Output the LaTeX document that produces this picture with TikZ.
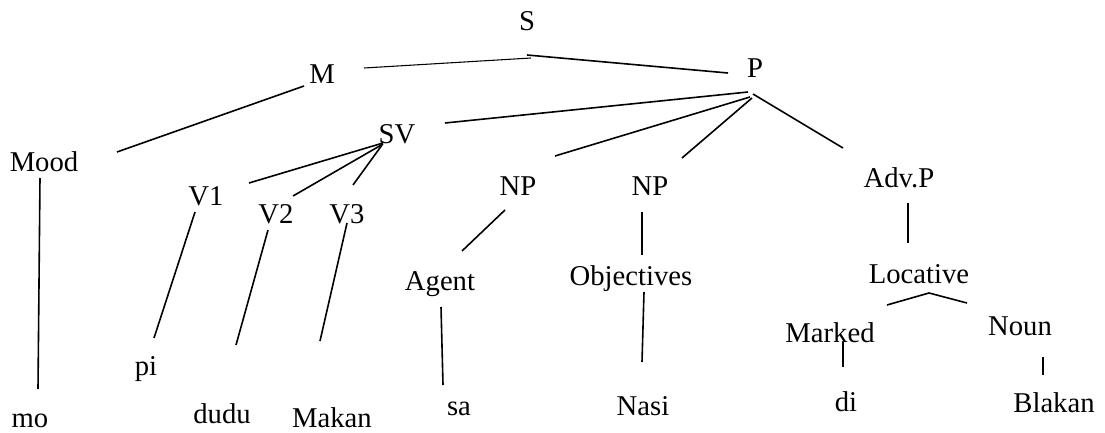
\documentclass[tikz,border=0pt]{standalone}
\usepackage{fontspec}
\setmainfont{Liberation Serif}
\begin{document}
\begin{tikzpicture}[x=0.75pt,y=-0.75pt,
  lbl/.style={anchor=base,inner sep=0pt,font=\fontsize{21.5}{25}\selectfont},
  edge/.style={line width=1.2pt},
  thin edge/.style={line width=0.8pt}]
\useasboundingbox (0,0) rectangle (1105,432);
% labels
\node[lbl] (S) at (527,30) {S};
\node[lbl] (M) at (322,83) {M};
\node[lbl] (P) at (755,77) {P};
\node[lbl] (Mood) at (44,171) {Mood};
\node[lbl] (SV) at (397,143) {SV};
\node[lbl] (V1) at (206,205) {V1};
\node[lbl] (V2) at (276,223) {V2};
\node[lbl] (V3) at (347,223) {V3};
\node[lbl] (NP1) at (518,195) {NP};
\node[lbl] (NP2) at (650,195) {NP};
\node[lbl] (AdvP) at (899,187) {Adv.P};
\node[lbl] (Agent) at (440,290) {Agent};
\node[lbl] (Obj) at (631,285) {Objectives};
\node[lbl] (Loc) at (919,283) {Locative};
\node[lbl] (Marked) at (830,342) {Marked};
\node[lbl] (Noun) at (1020,335) {Noun};
\node[lbl] (pi) at (146,375) {pi};
\node[lbl] (mo) at (30,427) {mo};
\node[lbl] (dudu) at (222,423) {dudu};
\node[lbl] (Makan) at (332,427) {Makan};
\node[lbl] (sa) at (459,415) {sa};
\node[lbl] (Nasi) at (643,415) {Nasi};
\node[lbl] (di) at (846,411) {di};
\node[lbl] (Blakan) at (1054,412) {Blakan};
% connector end points
\coordinate (sm1) at (364,68); \coordinate (sm2) at (531,58);
\coordinate (sp1) at (527,55); \coordinate (sp2) at (728,73);
\coordinate (mmood1) at (304,86); \coordinate (mmood2) at (117,152);
\coordinate (moodmo1) at (40,178); \coordinate (moodmo2) at (38,389);
\coordinate (psv1) at (748,92); \coordinate (psv2) at (445,123);
\coordinate (pnp11) at (750,97); \coordinate (pnp12) at (555,156);
\coordinate (pnp21) at (752,98); \coordinate (pnp22) at (682,158);
\coordinate (padv1) at (753,94); \coordinate (padv2) at (843,148);
\coordinate (svv11) at (383,143); \coordinate (svv12) at (249,183);
\coordinate (svv21) at (383,144); \coordinate (svv22) at (293,196);
\coordinate (svv31) at (382,145); \coordinate (svv32) at (353,185);
\coordinate (v1pi1) at (195,212); \coordinate (v1pi2) at (154,338);
\coordinate (v2du1) at (268,230); \coordinate (v2du2) at (236,345);
\coordinate (v3ma1) at (347,223); \coordinate (v3ma2) at (320,341);
\coordinate (npag1) at (505,210); \coordinate (npag2) at (462,251);
\coordinate (agsa1) at (441,307); \coordinate (agsa2) at (443,385);
\coordinate (npob1) at (642,212); \coordinate (npob2) at (642,255);
\coordinate (obna1) at (644,292); \coordinate (obna2) at (642,362);
\coordinate (advloc1) at (908,203); \coordinate (advloc2) at (908,243);
\coordinate (locm) at (887,305); \coordinate (loctop) at (929,293); \coordinate (locn) at (967,303);
\coordinate (mkdi1) at (843,342); \coordinate (mkdi2) at (843,367);
\coordinate (nobl1) at (1043,357); \coordinate (nobl2) at (1043,375);
% connectors
\draw[thin edge] (sm1) -- (sm2);
\draw[edge] (sp1) -- (sp2);
\draw[edge] (mmood1) -- (mmood2);
\draw[edge] (moodmo1) -- (moodmo2);
\draw[edge] (psv1) -- (psv2);
\draw[edge] (pnp11) -- (pnp12);
\draw[edge] (pnp21) -- (pnp22);
\draw[edge] (padv1) -- (padv2);
\draw[edge] (svv11) -- (svv12);
\draw[edge] (svv21) -- (svv22);
\draw[edge] (svv31) -- (svv32);
\draw[edge] (v1pi1) -- (v1pi2);
\draw[edge] (v2du1) -- (v2du2);
\draw[edge] (v3ma1) -- (v3ma2);
\draw[edge] (npag1) -- (npag2);
\draw[edge] (agsa1) -- (agsa2);
\draw[edge] (npob1) -- (npob2);
\draw[edge] (obna1) -- (obna2);
\draw[edge] (advloc1) -- (advloc2);
\draw[edge] (locm) -- (loctop) -- (locn);
\draw[edge] (mkdi1) -- (mkdi2);
\draw[edge] (nobl1) -- (nobl2);
\end{tikzpicture}
\end{document}
